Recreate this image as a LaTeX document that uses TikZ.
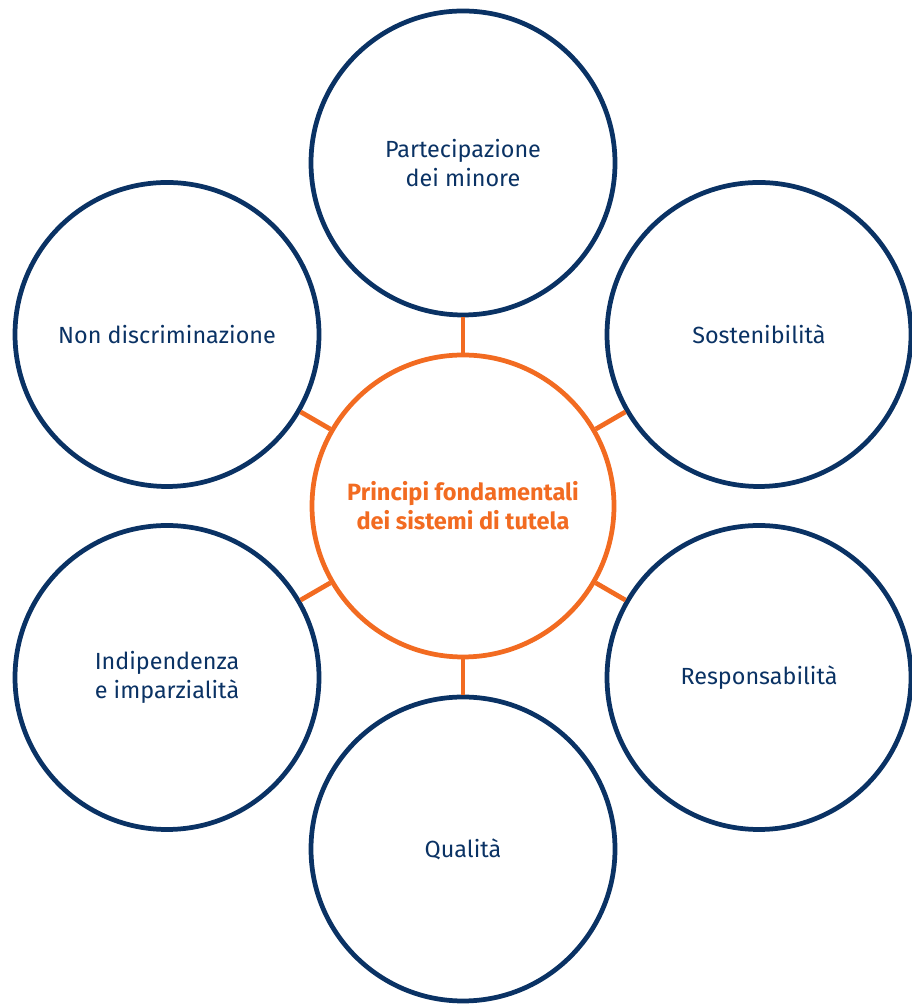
\documentclass[tikz,border=0pt]{standalone}
\usepackage{fontspec}
\setmainfont{Fira Sans}

\definecolor{navy}{HTML}{0A3264}
\definecolor{tangerine}{HTML}{F26B21}

\tikzset{
  principle/.style={circle, draw=navy, line width=2.7pt, minimum size=6.08cm, inner sep=0pt,
    text=navy, align=center, font=\fontsize{13.3}{16.5}\selectfont},
  hub/.style={circle, draw=tangerine, line width=2.7pt, minimum size=6.04cm, inner sep=0pt,
    text=tangerine, align=center, font=\fontsize{13.4}{16.5}\selectfont\bfseries},
  link/.style={draw=tangerine, line width=2.7pt}
}

\begin{document}
\begin{tikzpicture}

  \useasboundingbox (0,0) rectangle (18.22,20.1);

  \node[hub] (hub) at (9.26, 9.98) {Principi fondamentali\\dei sistemi di tutela};

  \node[principle] (partecipazione) at (9.26, 16.84) {Partecipazione\\dei minore};
  \node[principle] (sostenibilita) at (15.18, 13.41) {Sostenibilità};
  \node[principle] (responsabilita) at (15.18, 6.55) {Responsabilità};
  \node[principle] (qualita) at (9.26, 3.12) {Qualità};
  \node[principle] (indipendenza) at (3.34, 6.55) {Indipendenza\\e imparzialità};
  \node[principle] (discriminazione) at (3.34, 13.41) {Non discriminazione};

  \draw[link] (hub) -- (partecipazione);
  \draw[link] (hub) -- (sostenibilita);
  \draw[link] (hub) -- (responsabilita);
  \draw[link] (hub) -- (qualita);
  \draw[link] (hub) -- (indipendenza);
  \draw[link] (hub) -- (discriminazione);

\end{tikzpicture}
\end{document}
